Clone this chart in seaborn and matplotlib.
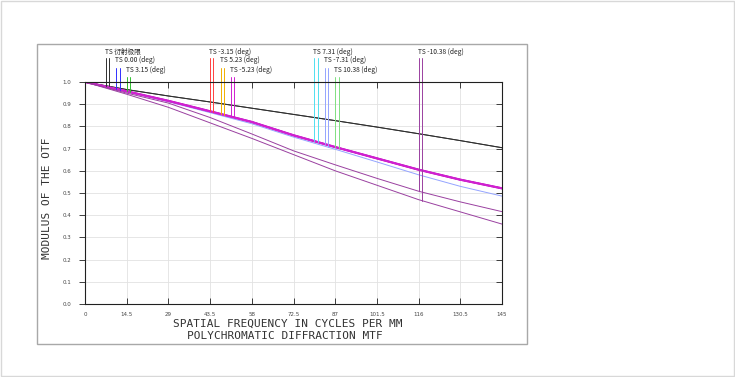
import numpy as np
import pandas as pd
import seaborn as sns
import matplotlib.pyplot as plt
from matplotlib.patches import Rectangle

# spatial frequency (cycles/mm) and MTF readings
freq = [0, 14.5, 29, 43.5, 58, 72.5, 87, 101.5, 116, 130.5, 145]
diff_limit = [1.0, 0.966, 0.937, 0.910, 0.882, 0.854, 0.826, 0.797, 0.767, 0.736, 0.704]
inner_fields = [1.0, 0.958, 0.915, 0.868, 0.820, 0.760, 0.707, 0.656, 0.605, 0.560, 0.521]
neg731_s = [1.0, 0.956, 0.911, 0.862, 0.812, 0.752, 0.697, 0.640, 0.582, 0.530, 0.486]
neg1038_t = [1.0, 0.950, 0.905, 0.840, 0.766, 0.690, 0.627, 0.566, 0.508, 0.460, 0.416]
neg1038_s = [1.0, 0.945, 0.886, 0.816, 0.746, 0.673, 0.600, 0.535, 0.470, 0.415, 0.360]

fields = ['衍射极限', '0.00', '3.15', '-3.15', '5.23', '-5.23', '7.31', '-7.31', '10.38', '-10.38']
field_colors = ['#303030', '#3030ff', '#30c030', '#ff4040', '#f0b000', '#d020d0',
                '#50e0f0', '#94a4ff', '#80e080', '#9a40a0']
# which measured curve each field's T and S traces follow
field_ts = [('diff', 'diff'), ('inner', 'inner'), ('inner', 'inner'), ('inner', 'inner'),
            ('inner', 'inner'), ('inner', 'inner'), ('inner', 'inner'), ('inner', 'n731s'),
            ('inner', 'inner'), ('n1038t', 'n1038s')]
marker_freq = [7.25, 10.875, 14.5, 43.5, 47.125, 50.75, 79.75, 83.375, 87, 116]

xtick_labels = ['0', '14.5', '29', '43.5', '58', '72.5', '87', '101.5', '116', '130.5', '145']
ytick_vals = [0.0, 0.1, 0.2, 0.3, 0.4, 0.5, 0.6, 0.7, 0.8, 0.9, 1.0]

curves = {'diff': diff_limit, 'inner': inner_fields, 'n731s': neg731_s,
          'n1038t': neg1038_t, 'n1038s': neg1038_s}
df = pd.concat([pd.DataFrame({'freq': freq, 'mtf': v, 'curve': k}) for k, v in curves.items()])

sns.set_style('white')
cjk = ['Noto Sans CJK SC', 'DejaVu Sans']

fig = plt.figure(figsize=(7.35, 3.77), dpi=100)
ax = fig.add_axes([85 / 735, 1 - 304 / 377, 417 / 735, 222 / 377])

# draw fields; magenta one last among the overlapping bundle
order = [0, 1, 2, 3, 4, 6, 7, 8, 5, 9]
for i in order:
    for k, name in enumerate(field_ts[i]):
        lw = 1.5 if i == 5 else 0.7
        sns.lineplot(data=df[df.curve == name], x='freq', y='mtf', color=field_colors[i],
                     lw=lw, ax=ax, legend=False, sort=False)

# legend markers above the plot
text_y = [1.137, 1.097, 1.054]
line_top = [1.107, 1.064, 1.024]
for i, f in enumerate(fields):
    row = i % 3
    for k, name in enumerate(field_ts[i]):
        x = marker_freq[i] + k * 1.15
        ybot = np.interp(x, freq, curves[name])
        ax.plot([x, x], [ybot, line_top[row]], color=field_colors[i], lw=0.7, clip_on=False)
    label = 'TS ' + (f if i == 0 else f + ' (deg)')
    ax.text(marker_freq[i] - 0.3, text_y[row], label, fontsize=4.8, family=cjk,
            ha='left', va='center', color='#222222')

ax.set_xlim(0, 145)
ax.set_ylim(0, 1)
ax.set_xticks(freq)
ax.set_xticklabels(xtick_labels)
ax.set_yticks(ytick_vals)
ax.set_yticklabels([f'{v:.1f}' for v in ytick_vals])
ax.grid(True, color='#e2e2e2', lw=0.6)
ax.set_xlabel('')
ax.set_ylabel('')
for s in ax.spines.values():
    s.set_color('#202020')
    s.set_linewidth(0.8)
ax.tick_params(axis='x', direction='in', top=True, bottom=True, length=4, width=0.6,
               pad=6, labelsize=4, labelcolor='#444444', color='#202020')
ax.tick_params(axis='y', direction='out', left=True, length=4, width=0.6,
               pad=6, labelsize=4, labelcolor='#444444', color='#202020')
ax2 = ax.twinx()
ax2.set_ylim(0, 1)
ax2.set_yticks(ytick_vals)
ax2.tick_params(axis='y', direction='in', right=True, length=4, width=0.6,
                labelright=False, color='#202020')
ax2.grid(False)
for s in ax2.spines.values():
    s.set_visible(False)

mono = 'DejaVu Sans Mono'
fig.text(47 / 735, 1 - 198.5 / 377, 'MODULUS OF THE OTF', rotation=90, family=mono,
         fontsize=8, color='#333333', ha='center', va='center')
fig.text(288 / 735, 1 - 323.7 / 377, 'SPATIAL FREQUENCY IN CYCLES PER MM', family=mono,
         fontsize=8, color='#333333', ha='center', va='center')
fig.text(284.5 / 735, 1 - 336 / 377, 'POLYCHROMATIC DIFFRACTION MTF', family=mono,
         fontsize=8, color='#333333', ha='center', va='center')

fig.add_artist(Rectangle((37 / 735, 1 - 344 / 377), 490 / 735, 300 / 377, transform=fig.transFigure,
                         fill=False, ec='#a8a8a8', lw=1))
fig.add_artist(Rectangle((0.001, 0.002), 0.997, 0.996, transform=fig.transFigure,
                         fill=False, ec='#d8d8d8', lw=1))

fig.savefig('out.png', dpi=100)
